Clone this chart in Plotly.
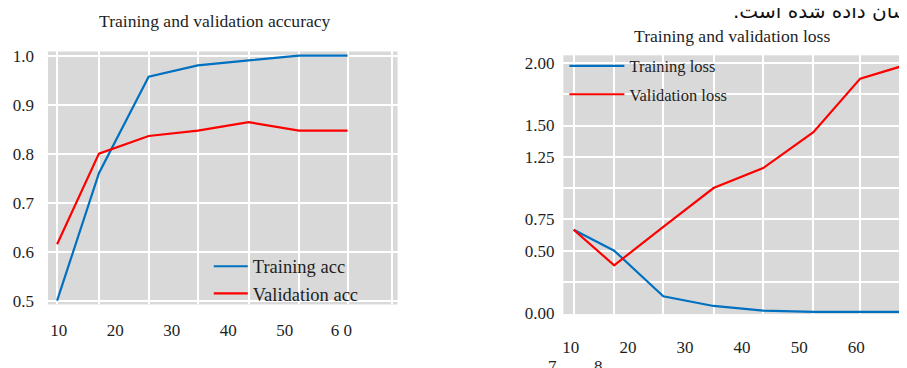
import plotly.graph_objects as go

# ---------------- data ----------------
# epochs as read off the (distorted) x axis
acc_epochs = [9.7, 17.1, 25.9, 34.6, 43.6, 52.5, 61.1]
train_acc = [0.50, 0.76, 0.957, 0.98, 0.99, 1.0, 1.0]
val_acc = [0.615, 0.80, 0.836, 0.847, 0.864, 0.847, 0.847]

loss_epochs = [10.5, 17.6, 26.2, 35.0, 43.7, 52.5, 60.7, 68.4]
train_loss = [0.667, 0.50, 0.135, 0.058, 0.02, 0.01, 0.01, 0.01]
val_loss = [0.667, 0.383, 0.69, 1.0, 1.16, 1.447, 1.875, 1.98]

acc_yticks = [0.5, 0.6, 0.7, 0.8, 0.9, 1.0]
acc_yticktext = ["0.5", "0.6", "0.7", "0.8", "0.9", "1.0"]
loss_yticks = [0.0, 0.25, 0.5, 0.75, 1.0, 1.25, 1.5, 1.75, 2.0]
loss_yticktext = ["0.00", "", "0.50", "0.75", "", "1.25", "1.50", "", "2.00"]

epoch_ticks = [10, 20, 30, 40, 50, 60]
acc_xticktext = ["10", "20", "30", "40", "50", "6 0"]
loss_xticktext = ["10", "20", "30", "40", "50", "60"]
acc_extra_grid = [68.9]

# ---------------- layout helpers ----------------
W, H = 907, 368
OFF = 8  # page body margin of the written html


def px_x(p):
    return (p - OFF) / W


def px_y(p):
    return 1 - (p - OFF) / H


SERIF = "Liberation Serif"
TXT = "#1e1e1e"
BLUE = "#0070C0"
RED = "#FF0000"
BG = "#d9d9d9"

fig = go.Figure()
fig.add_trace(go.Scatter(x=acc_epochs, y=train_acc, mode="lines", name="Training acc",
                         line=dict(color=BLUE, width=2.2), xaxis="x", yaxis="y", legend="legend"))
fig.add_trace(go.Scatter(x=acc_epochs, y=val_acc, mode="lines", name="Validation acc",
                         line=dict(color=RED, width=2.2), xaxis="x", yaxis="y", legend="legend"))
fig.add_trace(go.Scatter(x=loss_epochs, y=train_loss, mode="lines", name="Training loss",
                         legendgroup="tl",
                         line=dict(color=BLUE, width=2.2), xaxis="x2", yaxis="y2", legend="legend2"))
fig.add_trace(go.Scatter(x=loss_epochs, y=val_loss, mode="lines", name="Validation loss",
                         legendgroup="vl",
                         line=dict(color=RED, width=2.2), xaxis="x2", yaxis="y2", legend="legend2"))

ygrid = dict(showgrid=True, gridcolor="white", gridwidth=2, zeroline=False, showline=False, ticks="")
tickfont = dict(family=SERIF, size=17, color=TXT)


def xgrid(vals):
    return dict(showgrid=False, zeroline=False, showline=False, ticks="",
                minor=dict(tickmode="array", tickvals=vals, showgrid=True,
                           gridcolor="white", gridwidth=2, ticks=""))


fig.update_layout(
    width=W, height=H,
    margin=dict(l=0, r=0, t=0, b=0),
    paper_bgcolor="white",
    plot_bgcolor=BG,
    font=dict(family=SERIF, color=TXT, size=17),
    xaxis=dict(domain=[px_x(47), px_x(397)], range=[8.08, 69.95], anchor="y",
               tickmode="array", tickvals=epoch_ticks, ticktext=acc_xticktext,
               tickfont=tickfont, ticklabelstandoff=14, **xgrid(acc_epochs + acc_extra_grid)),
    yaxis=dict(domain=[px_y(311), px_y(48)], range=[0.4923, 1.0083], anchor="x",
               tickmode="array", tickvals=acc_yticks, ticktext=acc_yticktext,
               tickfont=tickfont, ticklabelstandoff=13, **ygrid),
    xaxis2=dict(domain=[px_x(563), px_x(907)], range=[8.7, 68.9], anchor="y2",
                tickmode="array", tickvals=epoch_ticks, ticktext=loss_xticktext,
                tickfont=tickfont, ticklabelstandoff=21, **xgrid(loss_epochs)),
    yaxis2=dict(domain=[px_y(321), px_y(52)], range=[-0.007, 2.061], anchor="x2",
                tickmode="array", tickvals=loss_yticks, ticktext=loss_yticktext,
                tickfont=tickfont, ticklabelstandoff=8, **ygrid),
    legend=dict(x=px_x(208), y=px_y(252), xanchor="left", yanchor="top",
                bgcolor="rgba(0,0,0,0)", borderwidth=0, itemwidth=34,
                font=dict(family=SERIF, size=18.5, color=TXT)),
    legend2=dict(x=px_x(564), y=px_y(45), xanchor="left", yanchor="top",
                 bgcolor="rgba(0,0,0,0)", borderwidth=0, itemwidth=55,
                 tracegroupgap=4, traceorder="grouped",
                 font=dict(family=SERIF, size=16.5, color=TXT)),
    showlegend=True,
)

annotations = [
    dict(text="Training and validation accuracy", x=px_x(214), y=px_y(16),
         xref="paper", yref="paper", xanchor="center", yanchor="middle", showarrow=False,
         font=dict(family=SERIF, size=17.6, color=TXT)),
    dict(text="Training and validation loss", x=px_x(732), y=px_y(32),
         xref="paper", yref="paper", xanchor="center", yanchor="middle", showarrow=False,
         font=dict(family=SERIF, size=17.6, color=TXT)),
    dict(text="نشان داده شده است.\u200F", x=px_x(731), y=px_y(6),
         xref="paper", yref="paper", xanchor="left", yanchor="middle", showarrow=False,
         font=dict(family="DejaVu Sans", size=20, color="#111111")),
    dict(text="7", x=px_x(552), y=px_y(364), xref="paper", yref="paper",
         xanchor="center", yanchor="top", showarrow=False,
         font=dict(family=SERIF, size=17, color=TXT)),
    dict(text="8", x=px_x(598), y=px_y(364), xref="paper", yref="paper",
         xanchor="center", yanchor="top", showarrow=False,
         font=dict(family=SERIF, size=17, color=TXT)),
]
fig.update_layout(annotations=annotations)

fig.write_html("out.html")
